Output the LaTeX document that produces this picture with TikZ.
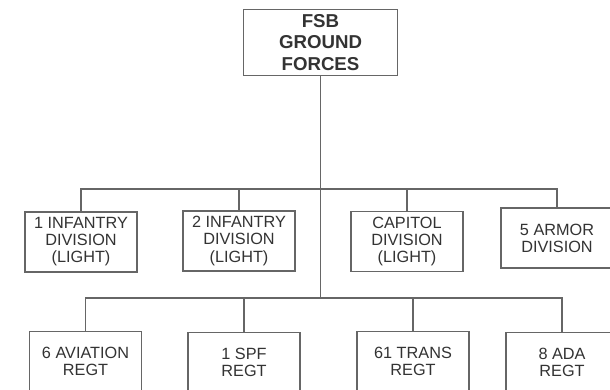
\documentclass[tikz,border=0pt]{standalone}
\usepackage{fontspec}
\setmainfont{Liberation Sans}
\usetikzlibrary{positioning}

\tikzset{
    unit/.style={draw=black!60,line width=0.8pt,fill=white,align=center,inner sep=0pt,
        minimum width=84pt,minimum height=45pt,text=black!80,
        font=\fontsize{12.2}{12.8}\selectfont},
    hq/.style={unit,minimum width=116pt,minimum height=50pt,
        font=\fontsize{14}{16.2}\selectfont\bfseries},
    wire/.style={draw=black!60,line width=0.8pt}
}

\begin{document}
\begin{tikzpicture}[x=0.75pt,y=-0.75pt]
        \clip (0,0) rectangle (610,389);
        \useasboundingbox (0,0) rectangle (610,389);
        \fill[white] (0,0) rectangle (610,389);
        % headquarters
        \node[hq] (fsb) at (320.5,42.5) {FSB\\GROUND\\FORCES};
        % bars
        \coordinate (divbar) at (0,189);
        \coordinate (regbar) at (0,298);
        % divisions
        \node[unit] (inf1) at (81,242) {1 INFANTRY\\DIVISION\\(LIGHT)};
        \node[unit] (inf2) at (239,241) {2 INFANTRY\\DIVISION\\(LIGHT)};
        \node[unit] (capdiv) at (407,241.5) {CAPITOL\\DIVISION\\(LIGHT)};
        \node[unit] (armdiv) at (557,238) {5 ARMOR\\DIVISION};
        % regiments
        \node[unit] (avn) at (85.5,361.5) {6 AVIATION\\REGT};
        \node[unit] (spf) at (244,362.5) {1 SPF\\REGT};
        \node[unit] (trans) at (413,361.5) {61 TRANS\\REGT};
        \node[unit] (ada) at (562,362.5) {8 ADA\\REGT};
        % connectors
        \draw[wire] (fsb.south) -- (fsb.south |- regbar);
        \draw[wire] (inf1.north) -- (inf1.north |- divbar) -| (armdiv.north);
        \draw[wire] (avn.north) -- (avn.north |- regbar) -| (ada.north);
        \foreach \u/\b in {inf2/divbar,capdiv/divbar,spf/regbar,trans/regbar}{
            \draw[wire] (\u.north) -- (\u.north |- \b);
        }
    \end{tikzpicture}
\end{document}
